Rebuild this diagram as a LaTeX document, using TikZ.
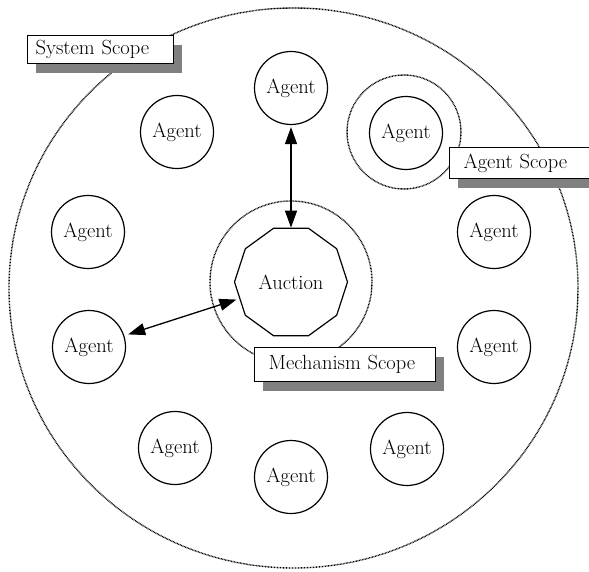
\documentclass[tikz,border=0pt]{standalone}
\usepackage{fontspec}
\usetikzlibrary{shapes.geometric,arrows.meta,shadows}
\begin{document}
\begin{tikzpicture}[x=1pt,y=-1pt,
  font=\fontsize{20.5}{24}\selectfont,
  agent/.style={circle,draw,line width=1.2pt,minimum size=73pt,inner sep=0pt},
  auction/.style={regular polygon,regular polygon sides=10,draw,line width=1.2pt,minimum size=113pt,inner sep=0pt},
  scopeline/.style={draw=black,line width=1.4pt,dash pattern=on 0.8pt off 0.7pt},
  scopebox/.style={draw,fill=white,line width=1.2pt,anchor=north west,align=left,inner ysep=0pt,
    drop shadow={shadow xshift=8pt,shadow yshift=-9pt,fill=black!50,opacity=1}},
  dbl/.style={{Triangle[length=17pt,width=12pt]}-{Triangle[length=17pt,width=12pt]},line width=1.3pt}]
\path[use as bounding box,clip] (0,0) rectangle (589,572);
\fill[white] (0,0) rectangle (589,572);
% scopes
\draw[scopeline] (293.5,288) ellipse [x radius=284.5, y radius=280];
\draw[scopeline] (404,132) circle [radius=57];
\draw[scopeline] (291,282) circle [radius=81];
% agents
\node[agent] (a1) at (291,88) {Agent};
\node[agent] (a2) at (177,132) {Agent};
\node[agent] (a3) at (406,133) {Agent};
\node[agent] (a4) at (88,232) {Agent};
\node[agent] (a5) at (494,232) {Agent};
\node[agent] (a6) at (89,347) {Agent};
\node[agent] (a7) at (494,347) {Agent};
\node[agent] (a8) at (175,448) {Agent};
\node[agent] (a9) at (291,477) {Agent};
\node[agent] (a10) at (407,449) {Agent};
% auction
\node[auction] (auc) at (291,282) {Auction};
% arrows
\draw[dbl,shorten <=2pt] (a1) -- (auc);
\draw[dbl,shorten <=4pt,shorten >=3pt] (a6) -- (auc);
% labels
\node[scopebox,minimum width=146pt,minimum height=28pt,inner xsep=8pt,text width=130pt] (sys) at (27,35) {System Scope};
\node[scopebox,minimum width=151pt,minimum height=31pt,inner xsep=14pt,text width=123pt] (ags) at (449,147) {Agent Scope};
\node[scopebox,minimum width=181pt,minimum height=34pt,inner xsep=14pt,text width=153pt] (mec) at (254,347) {Mechanism Scope};
\end{tikzpicture}
\end{document}
